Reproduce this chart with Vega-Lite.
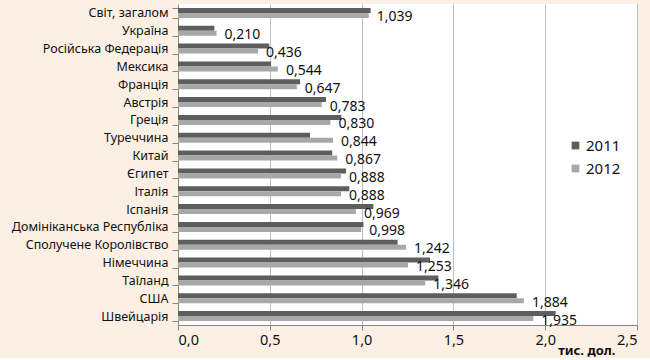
{
  "$schema": "https://vega.github.io/schema/vega-lite/v6.json",
  "autosize": {"type": "none"},
  "padding": {"left": 178, "top": 4, "right": 13, "bottom": 33},
  "width": 459,
  "height": 321,
  "background": "#FCEFE4",
  "config": {
    "view": {"fill": "#FFFFFF", "stroke": null},
    "font": "Noto Sans",
    "locale": {"number": {"decimal": ",", "thousands": " ", "grouping": [3], "currency": ["", ""]}}
  },
  "data": {
    "values": [
      {"country": "Світ, загалом", "year": "2011", "value": 1.049},
      {"country": "Світ, загалом", "year": "2012", "value": 1.039},
      {"country": "Україна", "year": "2011", "value": 0.198},
      {"country": "Україна", "year": "2012", "value": 0.210},
      {"country": "Російська Федерація", "year": "2011", "value": 0.497},
      {"country": "Російська Федерація", "year": "2012", "value": 0.436},
      {"country": "Мексика", "year": "2011", "value": 0.507},
      {"country": "Мексика", "year": "2012", "value": 0.544},
      {"country": "Франція", "year": "2011", "value": 0.665},
      {"country": "Франція", "year": "2012", "value": 0.647},
      {"country": "Австрія", "year": "2011", "value": 0.806},
      {"country": "Австрія", "year": "2012", "value": 0.783},
      {"country": "Греція", "year": "2011", "value": 0.890},
      {"country": "Греція", "year": "2012", "value": 0.830},
      {"country": "Туреччина", "year": "2011", "value": 0.719},
      {"country": "Туреччина", "year": "2012", "value": 0.844},
      {"country": "Китай", "year": "2011", "value": 0.840},
      {"country": "Китай", "year": "2012", "value": 0.867},
      {"country": "Єгипет", "year": "2011", "value": 0.915},
      {"country": "Єгипет", "year": "2012", "value": 0.888},
      {"country": "Італія", "year": "2011", "value": 0.933},
      {"country": "Італія", "year": "2012", "value": 0.888},
      {"country": "Іспанія", "year": "2011", "value": 1.064},
      {"country": "Іспанія", "year": "2012", "value": 0.969},
      {"country": "Домініканська Республіка", "year": "2011", "value": 1.010},
      {"country": "Домініканська Республіка", "year": "2012", "value": 0.998},
      {"country": "Сполучене Королівство", "year": "2011", "value": 1.196},
      {"country": "Сполучене Королівство", "year": "2012", "value": 1.242},
      {"country": "Німеччина", "year": "2011", "value": 1.373},
      {"country": "Німеччина", "year": "2012", "value": 1.253},
      {"country": "Таїланд", "year": "2011", "value": 1.418},
      {"country": "Таїланд", "year": "2012", "value": 1.346},
      {"country": "США", "year": "2011", "value": 1.845},
      {"country": "США", "year": "2012", "value": 1.884},
      {"country": "Швейцарія", "year": "2011", "value": 2.057},
      {"country": "Швейцарія", "year": "2012", "value": 1.935}
    ]
  },
  "encoding": {
    "y": {
      "field": "country",
      "type": "nominal",
      "sort": null,
      "scale": {"paddingInner": 0.44, "paddingOuter": 0.22},
      "axis": {
        "title": null,
        "tickBand": "extent",
        "tickSize": 6,
        "tickColor": "#868686",
        "domainColor": "#868686",
        "labelPadding": 4,
        "labelFontSize": 12.5,
        "labelColor": "#111111",
        "grid": false
      }
    },
    "x": {
      "field": "value",
      "type": "quantitative",
      "scale": {"domain": [0, 2.5], "nice": false},
      "axis": {
        "values": [0, 0.5, 1, 1.5, 2, 2.5],
        "format": ".1f",
        "grid": true,
        "gridColor": "#BFBFBF",
        "gridWidth": 1,
        "domainColor": "#868686",
        "tickColor": "#868686",
        "tickSize": 5,
        "labelFontSize": 14.5,
        "labelColor": "#111111",
        "labelPadding": 3,
        "title": "тис. дол.",
        "titleFontSize": 13,
        "titleFontWeight": "bold",
        "titleColor": "#111111",
        "titleAnchor": null,
        "titleAlign": "right",
        "titleBaseline": "alphabetic",
        "titleX": 437,
        "titleY": 29
      }
    },
    "yOffset": {"field": "year", "type": "nominal", "sort": ["2011", "2012"]}
  },
  "layer": [
    {
      "mark": {"type": "bar"},
      "encoding": {
        "color": {
          "field": "year",
          "type": "nominal",
          "scale": {"domain": ["2011", "2012"], "range": ["#5E5E5E", "#A8A8A8"]},
          "legend": {
            "title": null,
            "orient": "none",
            "legendX": 390,
            "legendY": 134,
            "symbolType": "square",
            "symbolSize": 60,
            "symbolStrokeWidth": 0,
            "labelFontSize": 15,
            "labelColor": "#111111",
            "labelOffset": 3,
            "rowPadding": 7
          }
        }
      }
    },
    {
      "transform": [{"filter": "datum.year == '2012'"}],
      "mark": {"type": "text", "align": "left", "baseline": "middle", "dx": 8, "dy": 2, "fontSize": 14, "color": "#111111"},
      "encoding": {
        "text": {"field": "value", "type": "quantitative", "format": ".3f"}
      }
    }
  ]
}
